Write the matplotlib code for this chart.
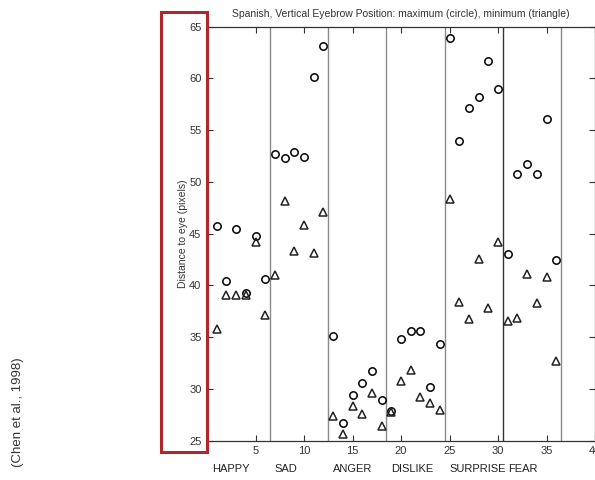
import matplotlib
matplotlib.use("Agg")
import matplotlib.pyplot as plt
import matplotlib.transforms as mtransforms
from matplotlib.patches import Rectangle

# Data
positions = list(range(1, 37))
maximum_circle = [45.7, 40.4, 45.5, 39.3, 44.8, 40.6,
                  52.7, 52.3, 52.9, 52.4, 60.1, 63.1,
                  35.1, 26.7, 29.4, 30.6, 31.7, 28.9,
                  27.9, 34.8, 35.6, 35.6, 30.2, 34.3,
                  63.9, 54.0, 57.1, 58.2, 61.7, 59.0,
                  43.0, 50.8, 51.7, 50.8, 56.1, 42.5]
minimum_triangle = [35.8, 39.1, 39.1, 39.1, 44.2, 37.1,
                    41.0, 48.2, 43.3, 45.8, 43.1, 47.1,
                    27.4, 25.6, 28.4, 27.6, 29.6, 26.4,
                    27.8, 30.8, 31.8, 29.2, 28.6, 28.0,
                    48.4, 38.4, 36.8, 42.6, 37.8, 44.2,
                    36.6, 36.9, 41.1, 38.3, 40.8, 32.7]
emotions = ["HAPPY", "SAD", "ANGER", "DISLIKE", "SURPRISE", "FEAR"]
emotion_label_x = [0.5, 7, 13, 19, 25, 31]
separators = [6.5, 12.5, 18.5, 24.5, 30.5, 36.5]
xticks = [5, 10, 15, 20, 25, 30, 35, 40]
yticks = [25, 30, 35, 40, 45, 50, 55, 60, 65]

narrow = ["Liberation Sans Narrow", "Liberation Sans", "DejaVu Sans"]

fig = plt.figure(figsize=(5.95, 4.8), dpi=100)
ax = fig.add_axes([207 / 595, 39.3 / 480, 388 / 595, 414 / 480])

for s in separators:
    col = "#333333" if s == 30.5 else "#8a8a8a"
    ax.axvline(s, color=col, lw=1.0, zorder=1)

ax.plot(positions, maximum_circle, linestyle="none", marker="o", markersize=5.3,
        markerfacecolor="none", markeredgecolor="black", markeredgewidth=1.1, zorder=3)
ax.plot(positions, minimum_triangle, linestyle="none", marker="^", markersize=5.8,
        markerfacecolor="none", markeredgecolor="#222222", markeredgewidth=1.1, zorder=3)

ax.set_xlim(0, 40)
ax.set_ylim(25, 65)
ax.set_xticks(xticks)
ax.set_yticks(yticks)
ax.set_xticklabels([str(t) for t in xticks], fontfamily=narrow, fontsize=8, color="#333333")
ax.set_yticklabels([str(t) for t in yticks], fontfamily=narrow, fontsize=8, color="#333333")
ax.tick_params(direction="in", top=True, right=True, length=4, width=0.8, color="#333333", pad=4)
for sp in ax.spines.values():
    sp.set_color("#333333")
    sp.set_linewidth(0.9)

ax.set_title("Spanish, Vertical Eyebrow Position: maximum (circle), minimum (triangle)",
             fontfamily=narrow, fontsize=7.5, color="#333333", pad=7)
ax.set_ylabel("Distance to eye (pixels)", fontfamily=narrow, fontsize=7.5, color="#333333", labelpad=1)

trans = mtransforms.blended_transform_factory(ax.transData, ax.transAxes)
for name, xpos in zip(emotions, emotion_label_x):
    ax.text(xpos, -0.068, name, transform=trans, ha="left", va="center",
            fontfamily=narrow, fontsize=8, color="#222222")

fig.text(0.031, 0.142, "(Chen et al., 1998)", rotation=90, ha="center", va="center",
         fontfamily=["Liberation Sans", "DejaVu Sans"], fontsize=9.5, color="#333333")

rect = Rectangle((160.7 / 595, (480 - 452.3) / 480), 46.6 / 595, 440 / 480,
                 transform=fig.transFigure, fill=False, edgecolor="#b0262c",
                 linewidth=2.2, zorder=10)
fig.add_artist(rect)

fig.savefig("out.png", dpi=100)
